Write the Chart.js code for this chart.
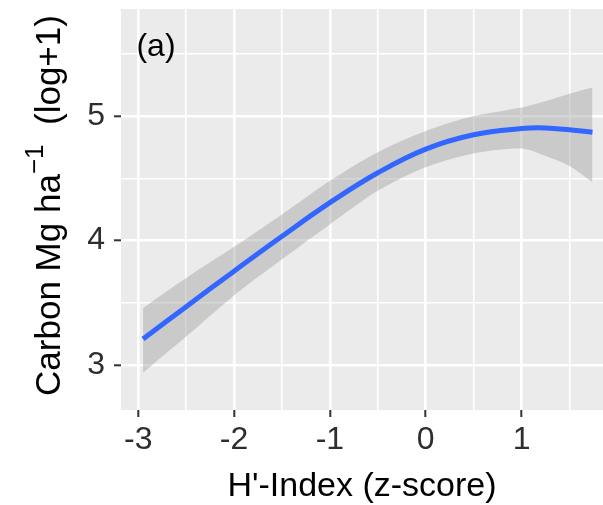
<!DOCTYPE html>
<html>
<head>
<meta charset="utf-8">
<script src="https://cdn.jsdelivr.net/npm/chart.js@4.4.1/dist/chart.umd.min.js"></script>
<style>
  html, body { margin: 0; padding: 0; background: #fff; }
</style>
</head>
<body>
<canvas id="myChart" width="603" height="505"></canvas>
<script>
// loess fit of carbon stock against H' diversity index
const hIndex = [-2.95, -2.5, -2, -1.5, -1, -0.5, 0, 0.5, 1, 1.25, 1.5, 1.74];
const carbonFit = [3.21, 3.47, 3.755, 4.035, 4.305, 4.545, 4.735, 4.85, 4.90, 4.905, 4.89, 4.87];
const carbonUpper = [3.46, 3.70, 3.95, 4.21, 4.48, 4.71, 4.88, 5.00, 5.07, 5.12, 5.18, 5.23];
const carbonLower = [2.94, 3.23, 3.56, 3.85, 4.13, 4.40, 4.59, 4.70, 4.74, 4.68, 4.60, 4.47];

const xTicks = [-3, -2.5, -2, -1.5, -1, -0.5, 0, 0.5, 1, 1.5];
const yTicks = [3, 3.5, 4, 4.5, 5, 5.5];

const FONT = "'Liberation Sans', Arial, sans-serif";

function toPoints(ys) {
    return hIndex.map((x, i) => ({ x: x, y: ys[i] }));
}

const isMajor = (v) => Number.isInteger(v);

// grey panel behind the grid, ggplot style
const panelBg = {
    id: 'panelBg',
    beforeDraw(chart) {
        const { ctx, chartArea } = chart;
        ctx.save();
        ctx.fillStyle = '#ebebeb';
        ctx.fillRect(chartArea.left, chartArea.top, chartArea.right - chartArea.left, chartArea.bottom - chartArea.top);
        ctx.restore();
    }
};

// panel tag and the y title (it needs a superscript, so it is drawn by hand)
const extraText = {
    id: 'extraText',
    afterDraw(chart) {
        const ctx = chart.ctx;
        const area = chart.chartArea;
        ctx.save();
        ctx.fillStyle = '#000';
        ctx.font = '32px ' + FONT;
        ctx.textAlign = 'center';
        ctx.textBaseline = 'middle';
        ctx.fillText('(a)', 156, 47);

        const big = '35px ' + FONT;
        const small = '26px ' + FONT;
        const part1 = 'Carbon Mg ha';
        const sup = '\u22121';
        const part2 = '  (log+1)';
        ctx.font = big;
        const w1 = ctx.measureText(part1).width;
        const w3 = ctx.measureText(part2).width;
        ctx.font = small;
        const w2 = ctx.measureText(sup).width;
        const total = w1 + w2 + w3;

        ctx.translate(60, (area.top + area.bottom) / 2 - 4);
        ctx.rotate(-Math.PI / 2);
        ctx.textAlign = 'left';
        ctx.textBaseline = 'alphabetic';
        let pos = -total / 2;
        ctx.font = big;
        ctx.fillText(part1, pos, 0);
        pos += w1;
        ctx.font = small;
        ctx.fillText(sup, pos, -17);
        pos += w2;
        ctx.font = big;
        ctx.fillText(part2, pos, 0);
        ctx.restore();
    }
};

function gridOpts() {
    return {
        color: '#ffffff',
        lineWidth: (c) => isMajor(c.tick.value) ? 2.6 : 1.6,
        tickColor: (c) => isMajor(c.tick.value) ? '#333333' : 'rgba(0,0,0,0)',
        tickWidth: 2,
        tickLength: 7
    };
}

const graph = document.getElementById('myChart').getContext('2d');
const myChart = new Chart(graph, {
    type: 'line',
    data: {
        datasets: [
            {
                label: 'fit',
                data: toPoints(carbonFit),
                borderColor: '#3366FF',
                borderWidth: 5,
                pointRadius: 0,
                fill: false,
                tension: 0.4
            },
            {
                label: 'upper',
                data: toPoints(carbonUpper),
                borderWidth: 0,
                borderColor: 'rgba(0,0,0,0)',
                backgroundColor: 'rgba(153,153,153,0.4)',
                pointRadius: 0,
                fill: '+1',
                tension: 0.3
            },
            {
                label: 'lower',
                data: toPoints(carbonLower),
                borderWidth: 0,
                borderColor: 'rgba(0,0,0,0)',
                pointRadius: 0,
                fill: false,
                tension: 0.3
            }
        ]
    },
    options: {
        responsive: false,
        animation: false,
        devicePixelRatio: 1,
        layout: { padding: { top: 9, right: 0, bottom: 0, left: 0 } },
        plugins: {
            legend: { display: false },
            tooltip: { enabled: false }
        },
        scales: {
            x: {
                type: 'linear',
                min: -3.18,
                max: 1.85,
                border: { display: false },
                grid: gridOpts(),
                afterBuildTicks: (scale) => { scale.ticks = xTicks.map(v => ({ value: v })); },
                afterFit: (scale) => {
                    scale.height = 95;
                    scale.paddingLeft = 0;
                    scale.paddingRight = 0;
                },
                ticks: {
                    autoSkip: false,
                    maxRotation: 0,
                    padding: 7,
                    color: '#2e2e2e',
                    font: { family: FONT, size: 32, lineHeight: 1 },
                    callback: (v) => isMajor(v) ? String(v) : ''
                },
                title: {
                    display: true,
                    text: "H'-Index (z-score)",
                    color: '#000',
                    font: { family: FONT, size: 34, lineHeight: 1 },
                    padding: { top: 0, bottom: 1 }
                }
            },
            y: {
                type: 'linear',
                min: 2.64,
                max: 5.86,
                border: { display: false },
                grid: gridOpts(),
                afterBuildTicks: (scale) => { scale.ticks = yTicks.map(v => ({ value: v })); },
                afterFit: (scale) => {
                    scale.width = 121;
                    scale.paddingTop = 0;
                    scale.paddingBottom = 0;
                },
                ticks: {
                    autoSkip: false,
                    padding: 9,
                    color: '#2e2e2e',
                    font: { family: FONT, size: 32, lineHeight: 1 },
                    callback: (v) => isMajor(v) ? String(v) : ''
                }
            }
        }
    },
    plugins: [panelBg, extraText]
});
</script>
</body>
</html>
